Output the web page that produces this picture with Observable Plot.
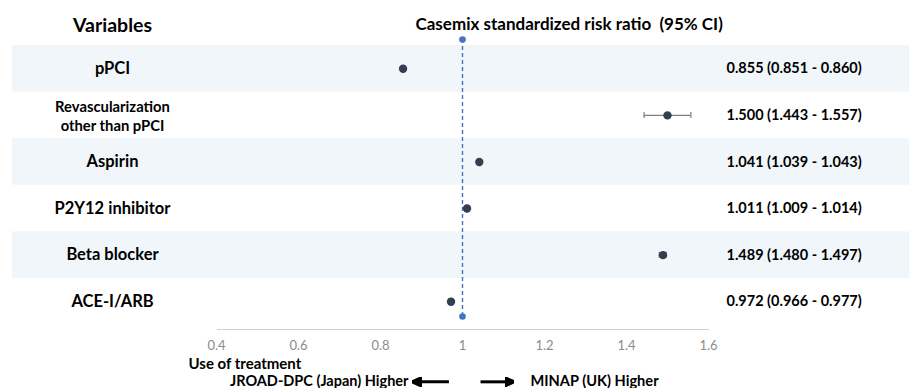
<!DOCTYPE html>
<html>
<head>
<meta charset="utf-8">
<script src="https://cdn.jsdelivr.net/npm/d3@7"></script>
<script src="https://cdn.jsdelivr.net/npm/@observablehq/plot@0.6"></script>
<style>
  html, body { margin: 0; padding: 0; background: #ffffff; }
  #chart svg { display: block; }
</style>
</head>
<body>
<div id="chart"></div>
<script>
// ---- data ----
const variables = ["pPCI", "Revascularization\nother than pPCI", "Aspirin", "P2Y12 inhibitor", "Beta blocker", "ACE-I/ARB"];
const ratio = [0.855, 1.500, 1.041, 1.011, 1.489, 0.972];
const ciLow = [0.851, 1.443, 1.039, 1.009, 1.480, 0.966];
const ciHigh = [0.860, 1.557, 1.043, 1.014, 1.497, 0.977];
const xTicks = [0.4, 0.6, 0.8, 1.0, 1.2, 1.4, 1.6];
const referenceValue = [1];

const rows = variables.map((name, i) => ({
  name, i, c: i + 0.5,
  rr: ratio[i], lo: ciLow[i], hi: ciHigh[i],
  label: `${ratio[i].toFixed(3)} (${ciLow[i].toFixed(3)} - ${ciHigh[i].toFixed(3)})`
}));

const arrowHead = (color, context) => {
  const m = d3.create("svg:marker")
    .attr("viewBox", "-6 -5 10 10")
    .attr("markerWidth", 3.2)
    .attr("markerHeight", 3.2)
    .attr("orient", "auto");
  m.append("path").attr("d", "M-6,-4.5L4,0L-6,4.5Z").attr("fill", color);
  return m.node();
};

const navy = "#333f50";
const blue = "#4472c4";
const font = "Lato, 'Open Sans', sans-serif";

const chart = Plot.plot({
  width: 909,
  height: 388,
  marginLeft: 12,
  marginRight: 0,
  marginTop: 45,
  marginBottom: 59,
  style: { fontFamily: font, background: "#ffffff", color: "#000" },
  x: { domain: [0.4, 1.6], range: [216, 708] },
  y: { domain: [0, 6], range: [45, 324.5], axis: null },
  marks: [
    // alternating row bands
    Plot.rect(rows.filter(d => d.i % 2 === 0), { y1: "i", y2: d => d.i + 1, fill: "#f1f6fa" }),
    // axis baseline
    Plot.frame({ anchor: "bottom", stroke: "#d0d0d0", insetLeft: 205, insetRight: 201 }),
    Plot.axisX({
      ticks: xTicks, tickSize: 0, tickPadding: 11, anchor: "bottom",
      tickFormat: d => d === 1 ? "1" : d3.format(".1f")(d),
      fill: "#8c8c8c", fontSize: 13, label: null
    }),
    // reference line at 1
    Plot.ruleX(referenceValue, { x: d => d, stroke: blue, strokeWidth: 1.4, strokeDasharray: "4,3", insetTop: -6, insetBottom: 13 }),
    Plot.dot(referenceValue, { x: d => d, frameAnchor: "top", dy: -6, r: 3.3, fill: blue, stroke: "none" }),
    Plot.dot(referenceValue, { x: d => d, frameAnchor: "bottom", dy: -13, r: 3.3, fill: blue, stroke: "none" }),
    // confidence intervals
    Plot.ruleY(rows, { x1: "lo", x2: "hi", y: "c", stroke: "#7f7f7f", strokeWidth: 1.2 }),
    Plot.ruleX(rows, { x: "lo", y1: "c", y2: "c", insetTop: -3, insetBottom: -3, stroke: "#7f7f7f", strokeWidth: 1.2 }),
    Plot.ruleX(rows, { x: "hi", y1: "c", y2: "c", insetTop: -3, insetBottom: -3, stroke: "#7f7f7f", strokeWidth: 1.2 }),
    // point estimates
    Plot.dot(rows, { x: "rr", y: "c", r: 4.2, fill: navy, stroke: "none" }),
    // row labels
    Plot.text(rows.filter(d => !d.name.includes("\n")), { y: "c", text: "name", frameAnchor: "left", dx: 100, textAnchor: "middle", lineAnchor: "middle", fontWeight: "bold", fontSize: 16.5, fill: "#000" }),
    Plot.text(rows.filter(d => d.name.includes("\n")), { y: "c", text: "name", frameAnchor: "left", dx: 100, textAnchor: "middle", lineAnchor: "middle", fontWeight: "bold", fontSize: 14.8, lineHeight: 1.28, fill: "#000" }),
    // value labels
    Plot.text(rows, { y: "c", text: "label", frameAnchor: "left", dx: 714, textAnchor: "start", lineAnchor: "middle", fontWeight: "bold", fontSize: 14.5, fill: "#000" }),
    // headers
    Plot.text(["Variables"], { text: d => d, frameAnchor: "top-left", dx: 100, dy: -20, textAnchor: "middle", lineAnchor: "middle", fontWeight: "bold", fontSize: 19.5, fill: "#000" }),
    Plot.text(["Casemix standardized risk ratio  (95% CI)"], { text: d => d, frameAnchor: "top-left", dx: 403, dy: -21, textAnchor: "start", lineAnchor: "middle", fontWeight: "bold", fontSize: 17, fill: "#000" }),
    // bottom annotation
    Plot.text(["Use of treatment"], { text: d => d, frameAnchor: "bottom-left", dx: 176, dy: 34.5, textAnchor: "start", lineAnchor: "middle", fontWeight: "bold", fontSize: 15, fill: "#000" }),
    Plot.text(["JROAD-DPC (Japan) Higher"], { text: d => d, frameAnchor: "bottom-left", dx: 396, dy: 52, textAnchor: "end", lineAnchor: "middle", fontWeight: "bold", fontSize: 14.5, fill: "#000" }),
    Plot.text(["MINAP (UK) Higher"], { text: d => d, frameAnchor: "bottom-left", dx: 518, dy: 52, textAnchor: "start", lineAnchor: "middle", fontWeight: "bold", fontSize: 14.6, fill: "#000" }),
    Plot.link([{ x1: 0.967, x2: 0.886 }, { x1: 1.044, x2: 1.117 }], {
      x1: "x1", x2: "x2", y1: () => 7.22, y2: () => 7.22,
      stroke: "#000", strokeWidth: 3, markerEnd: arrowHead
    })
  ]
});

document.getElementById("chart").appendChild(chart);
</script>
</body>
</html>
